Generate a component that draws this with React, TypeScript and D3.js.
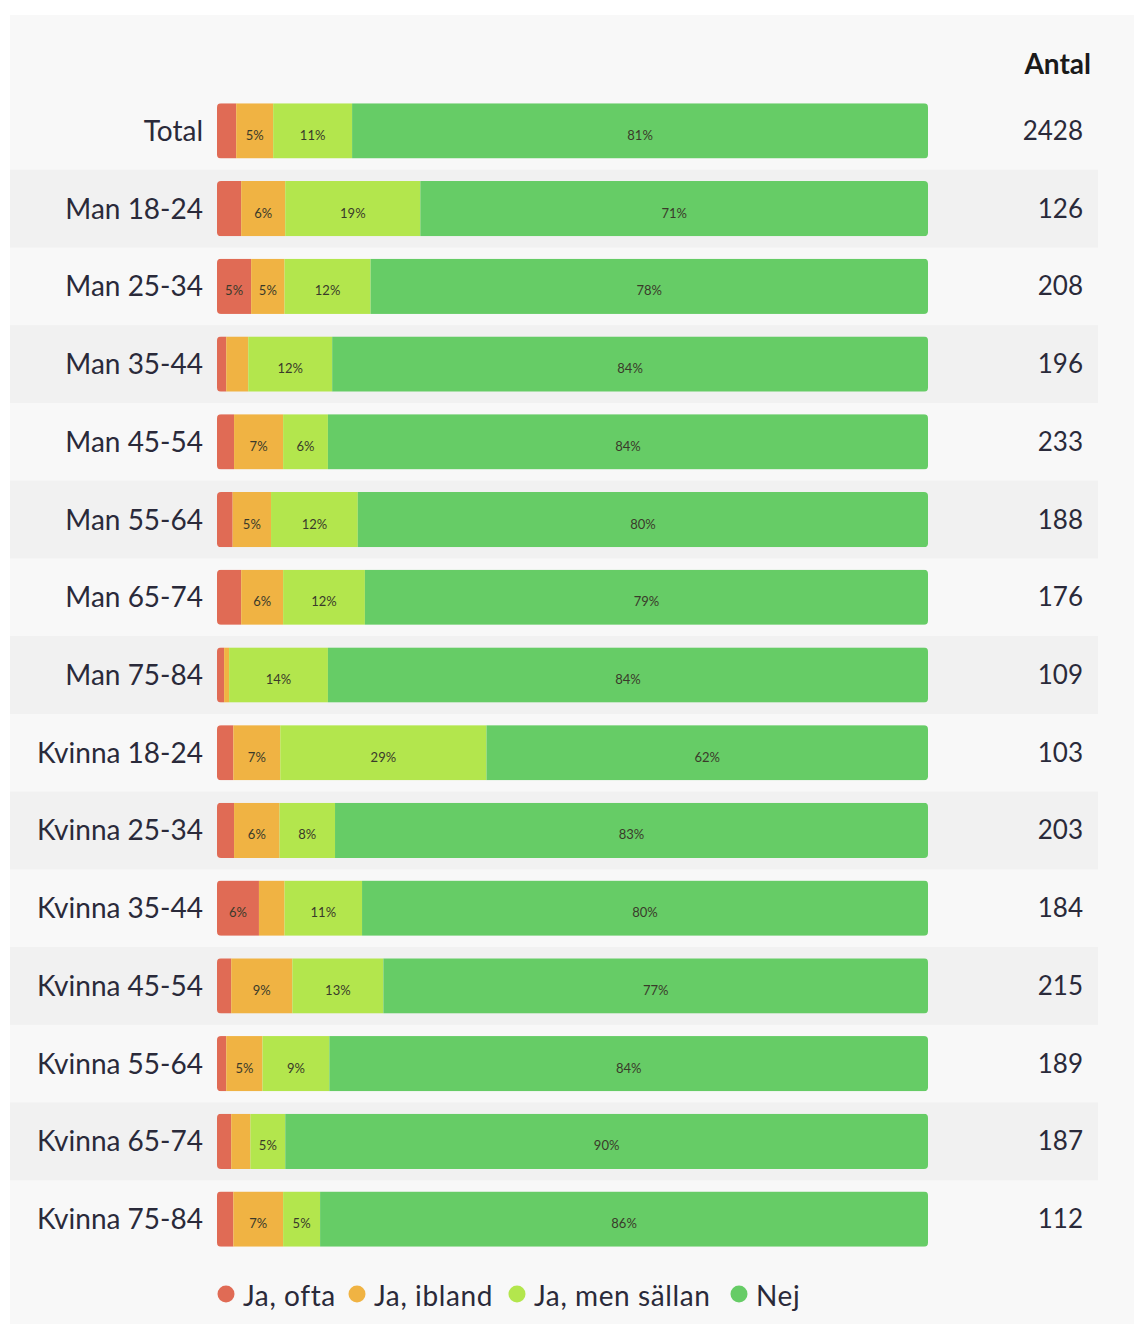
import React from 'react';
import * as d3 from 'd3';

const categories = [
  'Total', 'Man 18-24', 'Man 25-34', 'Man 35-44', 'Man 45-54', 'Man 55-64', 'Man 65-74', 'Man 75-84',
  'Kvinna 18-24', 'Kvinna 25-34', 'Kvinna 35-44', 'Kvinna 45-54', 'Kvinna 55-64', 'Kvinna 65-74', 'Kvinna 75-84',
];
const seriesNames = ['Ja, ofta', 'Ja, ibland', 'Ja, men sällan', 'Nej'];
const jaOfta = [2.7, 3.4, 4.8, 1.3, 2.4, 2.2, 3.4, 1.0, 2.3, 2.4, 5.9, 2.0, 1.3, 2.0, 2.3];
const jaIbland = [5.2, 6.2, 4.7, 3.1, 6.9, 5.4, 5.9, 0.7, 6.6, 6.4, 3.6, 8.6, 5.1, 2.7, 7.0];
const jaSallan = [11.1, 19.0, 12.1, 11.8, 6.3, 12.2, 11.5, 13.9, 29.0, 7.8, 10.9, 12.8, 9.4, 4.9, 5.2];
const nej = [81.0, 71.4, 78.4, 83.8, 84.4, 80.2, 79.2, 84.4, 62.1, 83.4, 79.6, 76.6, 84.2, 90.4, 85.5];
const antal = [2428, 126, 208, 196, 233, 188, 176, 109, 103, 203, 184, 215, 189, 187, 112];
const colors = ['#e06b55', '#f0b343', '#b3e64d', '#66cc66'];

const W = 1134;
const H = 1324;

export default function App() {
  const rows = categories.map((c, i) => {
    const vals = [jaOfta[i], jaIbland[i], jaSallan[i], nej[i]];
    return { cat: c, vals, total: antal[i] };
  });

  const x = d3.scaleLinear().domain([0, 100]).range([217, 928]);
  const y = d3.scaleBand<string>()
    .domain(categories)
    .range([92, 1258])
    .paddingInner(0.29)
    .paddingOuter(0.145);
  const step = y.step();
  const bw = y.bandwidth();
  const fmt = d3.format('.0f');

  const legendX = [226, 357, 517, 739];

  return (
    <svg width={W} height={H} style={{ position: 'absolute', left: 0, top: 0, display: 'block' }}
      fontFamily="Lato, 'Open Sans', sans-serif">
      <rect x={0} y={0} width={W} height={H} fill="#ffffff" />
      <rect x={10} y={15} width={W - 10} height={H - 15} fill="#f8f8f8" />
      {rows.map((r, i) => {
        const cy = (y(r.cat) as number) + bw / 2;
        return i % 2 === 1 ? (
          <rect key={'band' + i} x={10} y={cy - step / 2} width={1088} height={step} fill="#f1f1f1" />
        ) : null;
      })}
      <text x={1091} y={74} textAnchor="end" fontSize={28} fontWeight={700} fill="#1a1a1a">Antal</text>
      {rows.map((r, i) => {
        const y0 = y(r.cat) as number;
        const cy = y0 + bw / 2;
        const stack = d3.cumsum(r.vals);
        const clipId = 'clip' + i;
        return (
          <g key={r.cat}>
            <clipPath id={clipId}>
              <rect x={x(0)} y={y0} width={x(100) - x(0)} height={bw} rx={4} ry={4} />
            </clipPath>
            <g clipPath={`url(#${clipId})`}>
              {r.vals.map((v, k) => {
                const start = k === 0 ? 0 : stack[k - 1];
                return (
                  <rect key={k} x={x(start)} y={y0} width={x(start + v) - x(start)} height={bw} fill={colors[k]} />
                );
              })}
            </g>
            {r.vals.map((v, k) => {
              const start = k === 0 ? 0 : stack[k - 1];
              if (v < 4.5) return null;
              return (
                <text key={'l' + k} x={(x(start) + x(start + v)) / 2} y={cy + 9} textAnchor="middle"
                  fontSize={13} fill="#3a3a2a">{fmt(v)}%</text>
              );
            })}
            <text x={203} y={cy + 10} textAnchor="end" fontSize={28} fill="#2a2a3a">{r.cat}</text>
            <text x={1083} y={cy + 9} textAnchor="end" fontSize={26} fill="#2a2a3a">{r.total}</text>
          </g>
        );
      })}
      {seriesNames.map((s, k) => (
        <g key={s}>
          <circle cx={legendX[k]} cy={1294} r={8.5} fill={colors[k]} />
          <text x={legendX[k] + 17} y={1306} fontSize={28} letterSpacing={0.6} fill="#2a2a3a">{s}</text>
        </g>
      ))}
    </svg>
  );
}
